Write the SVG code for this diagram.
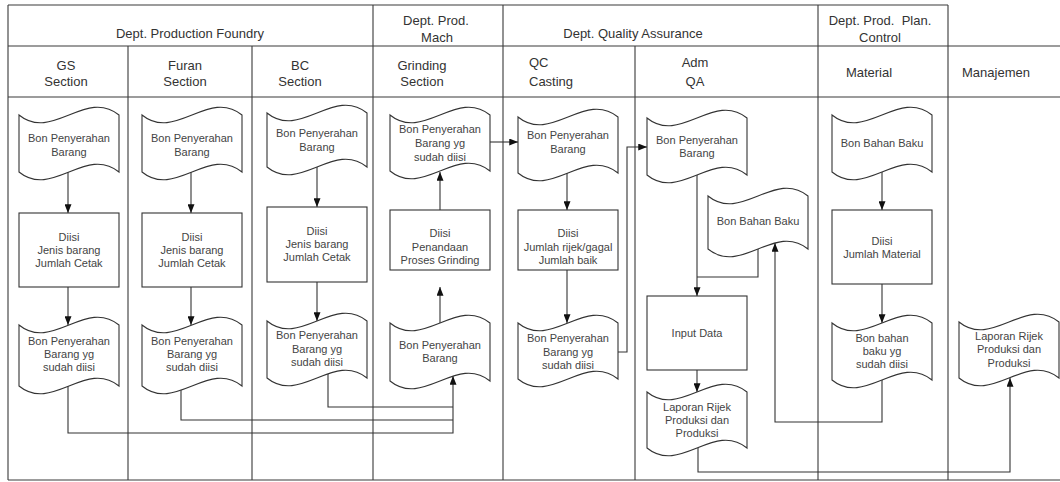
<svg xmlns="http://www.w3.org/2000/svg" width="1060" height="482" viewBox="0 0 1060 482">
<style>
.frame{stroke:#3a3a3a;stroke-width:1.1;fill:none}
.hd{font-family:"Liberation Sans",Arial,sans-serif;font-size:13px;fill:#333;text-anchor:middle;white-space:pre}
.tx{font-family:"Liberation Sans",Arial,sans-serif;font-size:11px;fill:#444;text-anchor:middle}
.shape{fill:#fff;stroke:#333;stroke-width:1.1}
.con{fill:none;stroke:#333;stroke-width:1.1}
.arr{marker-end:url(#ah)}
</style>
<defs>
<marker id="ah" viewBox="0 0 10 8" refX="10" refY="4" markerWidth="9" markerHeight="7" orient="auto" markerUnits="userSpaceOnUse"><path d="M0,0 L10,4 L0,8 z" fill="#111"/></marker>
</defs>
<rect width="1060" height="482" fill="#fff"/>
<g id="frame">
<path class="frame" d="M8,5 H948 M8,46 H1060 M8,97 H1060 M8,480 H1060 M8,5 V480 M373,5 V480 M503,5 V480 M818,5 V480 M948,5 V480 M128,46 V480 M252,46 V480 M635,46 V480"/>
<text class="hd" x="190" y="37.5">Dept. Production Foundry</text>
<text class="hd" x="436" y="24.5">Dept. Prod.</text>
<text class="hd" x="437" y="41.5">Mach</text>
<text class="hd" x="633" y="37.5">Dept. Quality Assurance</text>
<text class="hd" x="880" y="24.5">Dept. Prod.  Plan.</text>
<text class="hd" x="880" y="41.5">Control</text>
<text class="hd" x="66" y="69.5">GS</text><text class="hd" x="66" y="85.5">Section</text>
<text class="hd" x="185" y="69.5">Furan</text><text class="hd" x="185" y="85.5">Section</text>
<text class="hd" x="300" y="69.5">BC</text><text class="hd" x="300" y="85.5">Section</text>
<text class="hd" x="422" y="69.5">Grinding</text><text class="hd" x="422" y="85.5">Section</text>
<text class="hd" x="529" y="66.5" style="text-anchor:start">QC</text><text class="hd" x="529" y="85.5" style="text-anchor:start">Casting</text>
<text class="hd" x="695" y="66.5">Adm</text><text class="hd" x="695" y="85.5">QA</text>
<text class="hd" x="869" y="76.5">Material</text>
<text class="hd" x="996" y="76.5">Manajemen</text>
</g>
<g id="connectors">
<path class="con arr" d="M68,172 V213"/>
<path class="con arr" d="M68,287 V325"/>
<path class="con arr" d="M191,172 V213"/>
<path class="con arr" d="M191,287 V325"/>
<path class="con arr" d="M317,167 V207"/>
<path class="con arr" d="M317,282 V321"/>
<path class="con arr" d="M440,323 V287"/>
<path class="con arr" d="M440,210 V172"/>
<path class="con arr" d="M567,173 V210"/>
<path class="con arr" d="M567,270 V323"/>
<path class="con arr" d="M697,175 V296"/>
<path class="con" d="M758,249 V277 H697"/>
<path class="con arr" d="M697,370 V392"/>
<path class="con arr" d="M882,172 V210"/>
<path class="con arr" d="M882,284 V323"/>
<path class="con arr" d="M68,386 V433 H453 V376"/>
<path class="con" d="M181,390 V420 H453"/>
<path class="con" d="M328,374 V407 H453"/>
<path class="con arr" d="M490,142 H518"/>
<path class="con arr" d="M618,352 H627 V147 H647"/>
<path class="con arr" d="M882,380 V422 H775 V243"/>
<path class="con arr" d="M698,448 V472 H1010 V378"/>
</g>
<g id="gs-doc1"><path class="shape" d="M19,115 C52,142 86,88 119,115 L119,172 C86,145 52,199 19,172 Z"/><text class="tx" x="69" y="142">Bon Penyerahan</text><text class="tx" x="69" y="156">Barang</text></g>
<g id="gs-rect"><rect class="shape" x="19" y="213" width="100" height="74"/><text class="tx" x="69" y="241">Diisi</text><text class="tx" x="69" y="254">Jenis barang</text><text class="tx" x="69" y="267">Jumlah Cetak</text></g>
<g id="gs-doc2"><path class="shape" d="M19,325 C52,352 86,298 119,325 L119,386 C86,359 52,413 19,386 Z"/><text class="tx" x="69" y="345">Bon Penyerahan</text><text class="tx" x="69" y="358">Barang yg</text><text class="tx" x="69" y="371">sudah diisi</text></g>
<g id="furan-doc1"><path class="shape" d="M142,115 C175,142 209,88 242,115 L242,172 C209,145 175,199 142,172 Z"/><text class="tx" x="192" y="142">Bon Penyerahan</text><text class="tx" x="192" y="156">Barang</text></g>
<g id="furan-rect"><rect class="shape" x="142" y="213" width="100" height="74"/><text class="tx" x="192" y="241">Diisi</text><text class="tx" x="192" y="254">Jenis barang</text><text class="tx" x="192" y="267">Jumlah Cetak</text></g>
<g id="furan-doc2"><path class="shape" d="M142,325 C175,352 209,298 242,325 L242,386 C209,359 175,413 142,386 Z"/><text class="tx" x="192" y="345">Bon Penyerahan</text><text class="tx" x="192" y="358">Barang yg</text><text class="tx" x="192" y="371">sudah diisi</text></g>
<g id="bc-doc1"><path class="shape" d="M267,113 C300,140 334,86 367,113 L367,167 C334,140 300,194 267,167 Z"/><text class="tx" x="317" y="137">Bon Penyerahan</text><text class="tx" x="317" y="151">Barang</text></g>
<g id="bc-rect"><rect class="shape" x="267" y="207" width="100" height="75"/><text class="tx" x="317" y="235">Diisi</text><text class="tx" x="317" y="248">Jenis barang</text><text class="tx" x="317" y="261">Jumlah Cetak</text></g>
<g id="bc-doc2"><path class="shape" d="M267,321 C300,348 334,294 367,321 L367,378 C334,351 300,405 267,378 Z"/><text class="tx" x="317" y="339">Bon Penyerahan</text><text class="tx" x="317" y="353">Barang yg</text><text class="tx" x="317" y="366">sudah diisi</text></g>
<g id="grinding-doc1"><path class="shape" d="M390,115 C423,142 457,88 490,115 L490,171 C457,144 423,198 390,171 Z"/><text class="tx" x="440" y="133">Bon Penyerahan</text><text class="tx" x="440" y="147">Barang yg</text><text class="tx" x="440" y="161">sudah diisi</text></g>
<g id="grinding-rect"><rect class="shape" x="390" y="210" width="100" height="60"/><text class="tx" x="440" y="237">Diisi</text><text class="tx" x="440" y="251">Penandaan</text><text class="tx" x="440" y="264">Proses Grinding</text></g>
<g id="grinding-doc2"><path class="shape" d="M390,323 C423,350 457,296 490,323 L490,381 C457,354 423,408 390,381 Z"/><text class="tx" x="440" y="349">Bon Penyerahan</text><text class="tx" x="440" y="362">Barang</text></g>
<g id="qc-doc1"><path class="shape" d="M518,117 C551,144 585,90 618,117 L618,173 C585,146 551,200 518,173 Z"/><text class="tx" x="568" y="139">Bon Penyerahan</text><text class="tx" x="568" y="153">Barang</text></g>
<g id="qc-rect"><rect class="shape" x="518" y="210" width="100" height="60"/><text class="tx" x="568" y="237">Diisi</text><text class="tx" x="568" y="251">Jumlah rijek/gagal</text><text class="tx" x="568" y="264">Jumlah baik</text></g>
<g id="qc-doc2"><path class="shape" d="M518,323 C551,350 585,296 618,323 L618,379 C585,352 551,406 518,379 Z"/><text class="tx" x="568" y="342">Bon Penyerahan</text><text class="tx" x="568" y="356">Barang yg</text><text class="tx" x="568" y="369">sudah diisi</text></g>
<g id="adm-doc1"><path class="shape" d="M647,118 C680,145 714,91 747,118 L747,175 C714,148 680,202 647,175 Z"/><text class="tx" x="697" y="144">Bon Penyerahan</text><text class="tx" x="697" y="157">Barang</text></g>
<g id="adm-bonbahan"><path class="shape" d="M708,196 C741,223 775,169 808,196 L808,249 C775,222 741,276 708,249 Z"/><text class="tx" x="758" y="225">Bon Bahan Baku</text></g>
<g id="adm-input"><rect class="shape" x="647" y="296" width="100" height="74"/><text class="tx" x="697" y="337">Input Data</text></g>
<g id="adm-laporan"><path class="shape" d="M647,392 C680,419 714,365 747,392 L747,448 C714,421 680,475 647,448 Z"/><text class="tx" x="697" y="411">Laporan Rijek</text><text class="tx" x="697" y="424">Produksi dan</text><text class="tx" x="697" y="437">Produksi</text></g>
<g id="mat-doc1"><path class="shape" d="M832,115 C865,142 899,88 932,115 L932,172 C899,145 865,199 832,172 Z"/><text class="tx" x="882" y="147">Bon Bahan Baku</text></g>
<g id="mat-rect"><rect class="shape" x="832" y="210" width="100" height="74"/><text class="tx" x="882" y="245">Diisi</text><text class="tx" x="882" y="258">Jumlah Material</text></g>
<g id="mat-doc2"><path class="shape" d="M832,323 C865,350 899,296 932,323 L932,380 C899,353 865,407 832,380 Z"/><text class="tx" x="882" y="342">Bon bahan</text><text class="tx" x="882" y="355">baku yg</text><text class="tx" x="882" y="368">sudah diisi</text></g>
<g id="man-laporan"><path class="shape" d="M959,322 C992,349 1026,295 1059,322 L1059,378 C1026,351 992,405 959,378 Z"/><text class="tx" x="1009" y="340">Laporan Rijek</text><text class="tx" x="1009" y="353">Produksi dan</text><text class="tx" x="1009" y="367">Produksi</text></g>
</svg>
